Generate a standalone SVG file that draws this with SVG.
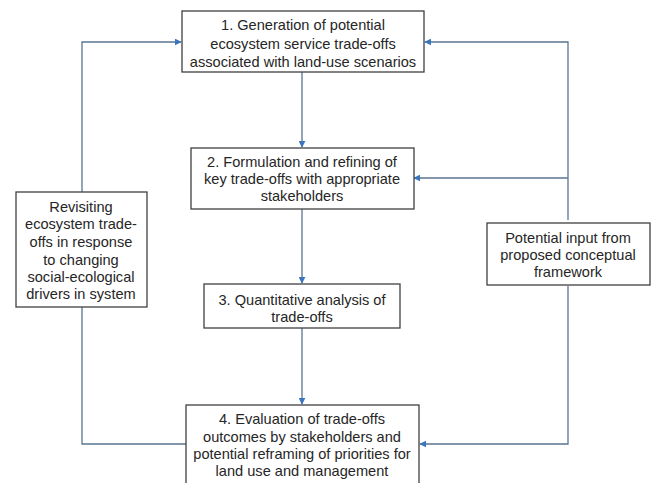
<svg xmlns="http://www.w3.org/2000/svg" width="655" height="483" viewBox="0 0 655 483">
<style>
.box{fill:#fff;stroke:#404040;stroke-width:1.3}
.t{font-family:"Liberation Sans",Arial,sans-serif;font-size:14.6px;fill:#262626;text-anchor:middle}
.c{fill:none;stroke:#5a7590;stroke-width:1.3}
</style>
<defs>
<marker id="a" viewBox="0 0 10 10" refX="9" refY="5" markerWidth="7" markerHeight="7" markerUnits="userSpaceOnUse" orient="auto">
<path d="M0,0 L10,5 L0,10 z" fill="#3a75bd"/>
</marker>
</defs>
<rect width="655" height="483" fill="#fff"/>
<g id="connectors">
<path class="c" d="M186,444 H82 V42 H181" marker-end="url(#a)"/>
<path class="c" d="M568,220 V42 H425" marker-end="url(#a)"/>
<path class="c" d="M568,178 H414" marker-end="url(#a)"/>
<path class="c" d="M568,286 V444 H420" marker-end="url(#a)"/>
<path class="c" d="M302,72 V147" marker-end="url(#a)"/>
<path class="c" d="M302,209 V283" marker-end="url(#a)"/>
<path class="c" d="M302,328 V404" marker-end="url(#a)"/>
</g>
<g id="n1">
<rect class="box" x="182" y="11" width="242" height="61"/>
<text class="t" x="303" y="30">1. Generation of potential</text>
<text class="t" x="303" y="49">ecosystem service trade-offs</text>
<text class="t" x="303" y="67">associated with land-use scenarios</text>
</g>
<g id="n2">
<rect class="box" x="191" y="148" width="223" height="61"/>
<text class="t" x="302" y="167">2. Formulation and refining of</text>
<text class="t" x="302" y="184">key trade-offs with appropriate</text>
<text class="t" x="302" y="201">stakeholders</text>
</g>
<g id="n3">
<rect class="box" x="204" y="284" width="196" height="44"/>
<text class="t" x="302" y="305">3. Quantitative analysis of</text>
<text class="t" x="302" y="322">trade-offs</text>
</g>
<g id="n4">
<rect class="box" x="186" y="405" width="233" height="90"/>
<text class="t" x="302" y="424">4. Evaluation of trade-offs</text>
<text class="t" x="302" y="442">outcomes by stakeholders and</text>
<text class="t" x="302" y="459">potential reframing of priorities for</text>
<text class="t" x="302" y="476">land use and management</text>
</g>
<g id="left">
<rect class="box" x="16" y="192" width="131" height="115"/>
<text class="t" x="81" y="212">Revisiting</text>
<text class="t" x="81" y="229">ecosystem trade-</text>
<text class="t" x="81" y="247">offs in response</text>
<text class="t" x="81" y="265">to changing</text>
<text class="t" x="81" y="282">social-ecological</text>
<text class="t" x="81" y="299">drivers in system</text>
</g>
<g id="right">
<rect class="box" x="487" y="223" width="163" height="62"/>
<text class="t" x="568" y="243">Potential input from</text>
<text class="t" x="568" y="260">proposed conceptual</text>
<text class="t" x="568" y="277">framework</text>
</g>
</svg>
